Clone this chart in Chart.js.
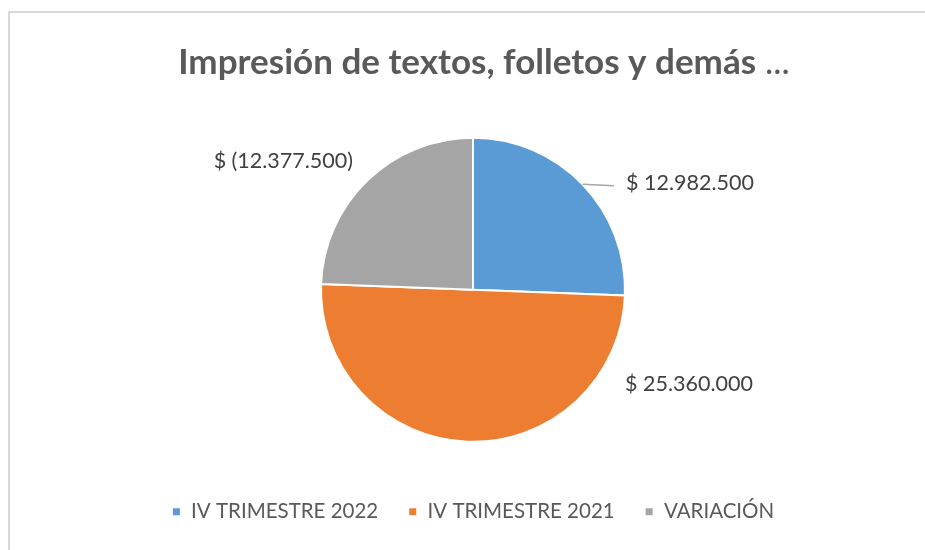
<!DOCTYPE html>
<html>
<head>
<meta charset="utf-8">
<script src="https://cdn.jsdelivr.net/npm/chart.js@4/dist/chart.umd.min.js"></script>
<style>
  html, body { margin: 0; padding: 0; background: #fff; }
  #wrap { position: relative; width: 925px; height: 550px; }
</style>
</head>
<body>
<div id="wrap"><canvas id="pie" width="925" height="550"></canvas></div>
<script>
const titleText = 'Impresión de textos, folletos y demás';
const categories = ['IV TRIMESTRE 2022', 'IV TRIMESTRE 2021', 'VARIACIÓN'];
const values = [12982500, 25360000, -12377500];
const colors = ['#5B9BD5', '#ED7D31', '#A5A5A5'];

function money(v) {
  const s = Math.abs(v).toString().replace(/\B(?=(\d{3})+(?!\d))/g, '.');
  return v < 0 ? '$ (' + s + ')' : '$ ' + s;
}

const FONT = 'Lato, "Open Sans", sans-serif';

// frame + title
const decor = {
  id: 'decor',
  beforeDraw(chart) {
    const ctx = chart.ctx;
    ctx.save();
    ctx.fillStyle = '#fff';
    ctx.fillRect(0, 0, chart.width, chart.height);
    ctx.strokeStyle = '#d9d9d9';
    ctx.lineWidth = 2;
    ctx.beginPath();
    ctx.moveTo(9, chart.height);
    ctx.lineTo(9, 12);
    ctx.lineTo(chart.width, 12);
    ctx.stroke();

    ctx.fillStyle = '#595959';
    ctx.textBaseline = 'alphabetic';
    ctx.font = 'bold 35px ' + FONT;
    const w1 = ctx.measureText(titleText).width;
    ctx.font = '35px ' + FONT;
    const w2 = ctx.measureText(' ...').width;
    const x0 = 484 - (w1 + w2) / 2;
    ctx.textAlign = 'left';
    ctx.font = 'bold 35px ' + FONT;
    ctx.fillText(titleText, x0, 74);
    ctx.font = '35px ' + FONT;
    ctx.fillText(' ...', x0 + w1, 74);
    ctx.restore();
  }
};

// value labels outside the slices
const labelOffsets = [
  { dx: 153, dy: -107, align: 'left', leader: true },
  { dx: 152, dy: 94, align: 'left' },
  { dx: -120, dy: -129, align: 'right' }
];

const valueLabels = {
  id: 'valueLabels',
  afterDatasetsDraw(chart) {
    const ctx = chart.ctx;
    const arcs = chart.getDatasetMeta(0).data;
    ctx.save();
    ctx.font = '21.5px ' + FONT;
    ctx.fillStyle = '#404040';
    ctx.textBaseline = 'middle';
    arcs.forEach((arc, i) => {
      const o = labelOffsets[i];
      const tx = arc.x + o.dx, ty = arc.y + o.dy;
      if (o.leader) {
        const mid = (arc.startAngle + arc.endAngle) / 2;
        ctx.strokeStyle = '#a6a6a6';
        ctx.lineWidth = 1.5;
        ctx.beginPath();
        ctx.moveTo(arc.x + Math.cos(mid) * arc.outerRadius, arc.y + Math.sin(mid) * arc.outerRadius);
        ctx.lineTo(tx - 12, ty + 3);
        ctx.stroke();
      }
      ctx.textAlign = o.align;
      ctx.fillText(money(values[i]), tx, ty);
    });
    ctx.restore();
  }
};

new Chart(document.getElementById('pie').getContext('2d'), {
  type: 'pie',
  data: {
    labels: categories,
    datasets: [{
      data: values,
      backgroundColor: colors,
      borderColor: '#ffffff',
      borderWidth: 2,
      radius: 152
    }]
  },
  options: {
    responsive: false,
    animation: false,
    layout: { padding: { top: 108, left: 21, right: 0, bottom: 18 } },
    plugins: {
      title: { display: false },
      tooltip: { enabled: false },
      legend: {
        position: 'bottom',
        labels: {
          color: '#595959',
          font: { family: FONT, size: 20.5 },
          boxWidth: 9,
          boxHeight: 9,
          padding: 30
        }
      }
    }
  },
  plugins: [decor, valueLabels]
});
</script>
</body>
</html>
